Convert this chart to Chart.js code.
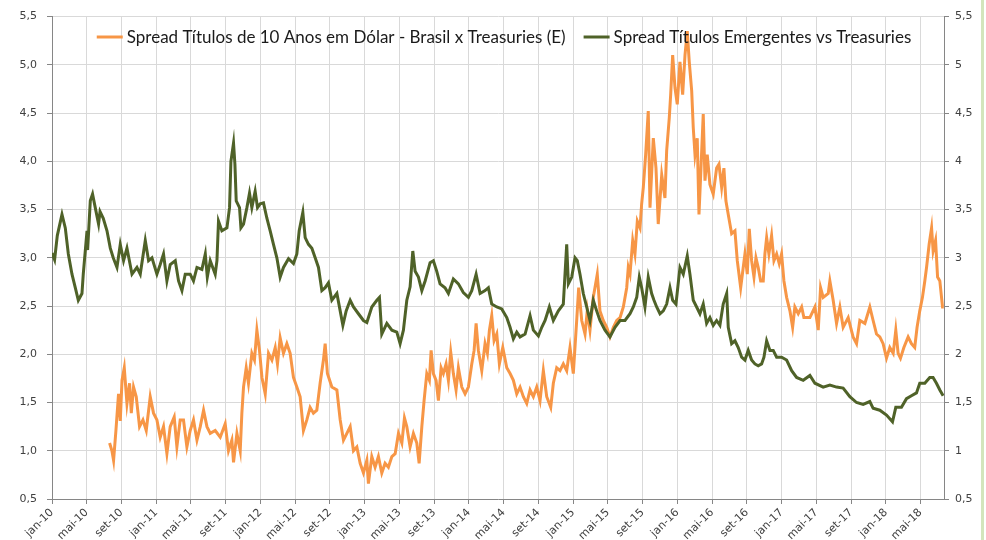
<!DOCTYPE html>
<html>
<head>
<meta charset="utf-8">
<script src="https://cdn.jsdelivr.net/npm/chart.js@4.4.1/dist/chart.umd.min.js"></script>
<style>
  html, body { margin: 0; padding: 0; background: #ffffff; }
  #wrap { position: relative; width: 986px; height: 540px; overflow: hidden; }
  #edge { position: absolute; left: 981px; top: 0; width: 3px; height: 540px; background: #d3e5bc; }
</style>
</head>
<body>
<div id="wrap">
  <canvas id="chart" width="986" height="540"></canvas>
  <div id="edge"></div>
</div>
<script>
// x = months since jan-10, y = spread (p.p.)
const tickLabels = ['jan-10','mai-10','set-10','jan-11','mai-11','set-11','jan-12','mai-12','set-12',
  'jan-13','mai-13','set-13','jan-14','mai-14','set-14','jan-15','mai-15','set-15',
  'jan-16','mai-16','set-16','jan-17','mai-17','set-17','jan-18','mai-18'];
const tickMonths = tickLabels.map((_, i) => i * 4);
const lastMonth = 102.7;

const brasilLabel = 'Spread Títulos de 10 Anos em Dólar - Brasil x Treasuries (E)';
const emergLabel = 'Spread Títulos Emergentes vs Treasuries';

// Brasil 10y spread (left axis)
const brasilPoints = [
  [6.63,1.08],[6.90,1.00],[7.09,0.90],[7.36,1.21],[7.66,1.59],[7.86,1.31],[8.06,1.73],[8.32,1.86],[8.63,1.49],[8.93,1.70],
  [9.13,1.39],[9.39,1.66],[9.70,1.56],[10.08,1.25],[10.47,1.32],[10.85,1.21],[11.31,1.56],[11.69,1.39],[12.08,1.32],[12.46,1.14],
  [12.84,1.25],[13.23,0.97],[13.61,1.25],[14.07,1.35],[14.38,1.04],[14.76,1.32],[15.14,1.32],[15.53,1.04],[15.91,1.21],[16.29,1.32],
  [16.69,1.11],[17.07,1.25],[17.45,1.42],[17.84,1.25],[18.22,1.18],[18.79,1.21],[19.37,1.14],[19.94,1.28],[20.32,1.00],[20.71,1.11],
  [20.90,0.88],[21.29,1.18],[21.67,1.00],[21.86,1.39],[22.05,1.66],[22.36,1.86],[22.62,1.70],[23.01,2.01],[23.31,1.94],[23.59,2.25],
  [23.89,2.04],[24.17,1.76],[24.55,1.59],[24.93,2.01],[25.32,1.94],[25.70,2.07],[25.96,1.90],[26.27,2.17],[26.65,2.01],[27.04,2.11],
  [27.42,2.01],[27.80,1.76],[28.19,1.66],[28.57,1.56],[28.95,1.21],[29.34,1.32],[29.72,1.45],[30.10,1.39],[30.49,1.42],[30.87,1.70],
  [31.25,1.94],[31.45,2.11],[31.71,1.80],[32.22,1.66],[32.80,1.63],[33.18,1.32],[33.56,1.11],[33.95,1.18],[34.33,1.25],[34.71,1.00],
  [35.10,1.04],[35.48,0.87],[35.86,0.77],[36.25,0.90],[36.43,0.66],[36.82,0.94],[37.20,0.83],[37.58,0.94],[37.97,0.77],[38.35,0.87],
  [38.73,0.83],[39.13,0.94],[39.51,0.97],[39.89,1.18],[40.28,1.08],[40.58,1.34],[40.85,1.25],[41.23,1.04],[41.61,1.18],[42.00,1.08],
  [42.27,0.87],[42.58,1.25],[42.84,1.52],[43.15,1.80],[43.45,1.73],[43.65,2.04],[43.91,1.80],[44.22,1.73],[44.49,1.52],[44.80,1.86],
  [45.06,1.80],[45.37,1.90],[45.64,1.73],[45.91,2.02],[46.21,1.80],[46.52,1.63],[46.79,1.86],[47.18,1.66],[47.56,1.59],[47.94,1.66],
  [48.33,1.90],[48.60,2.04],[48.83,2.32],[49.09,2.04],[49.48,1.83],[49.86,2.11],[50.13,2.01],[50.36,2.25],[50.63,2.40],[50.90,2.14],
  [51.21,2.21],[51.51,1.90],[51.90,2.07],[52.36,1.86],[52.74,1.80],[53.12,1.73],[53.51,1.59],[53.89,1.66],[54.27,1.56],[54.66,1.49],
  [55.04,1.63],[55.42,1.56],[55.81,1.66],[56.19,1.52],[56.57,1.83],[56.96,1.56],[57.42,1.45],[57.72,1.70],[58.11,1.86],[58.49,1.83],
  [58.87,1.90],[59.26,1.83],[59.64,2.07],[60.02,1.80],[60.41,2.35],[60.64,2.69],[60.99,2.35],[61.37,2.21],[61.63,2.45],[61.94,2.25],
  [62.32,2.59],[62.78,2.83],[63.09,2.45],[63.47,2.35],[63.87,2.28],[64.24,2.18],[64.63,2.28],[65.02,2.35],[65.40,2.38],[65.78,2.49],
  [66.17,2.69],[66.35,2.90],[66.55,2.83],[66.86,3.18],[67.12,3.04],[67.39,3.38],[67.70,3.31],[67.89,3.56],[68.08,3.73],[68.35,4.07],
  [68.65,4.52],[68.85,3.52],[69.23,4.24],[69.54,3.93],[69.80,3.35],[70.20,3.86],[70.57,3.62],[70.77,4.11],[71.07,4.45],[71.23,4.69],
  [71.46,5.10],[71.73,4.76],[71.99,4.59],[72.30,5.03],[72.61,4.69],[72.88,5.10],[73.14,5.35],[73.37,5.03],[73.65,4.73],[73.83,4.35],
  [74.03,4.07],[74.29,4.24],[74.49,3.45],[74.72,3.93],[74.98,4.49],[75.18,3.80],[75.44,4.07],[75.75,3.76],[76.13,3.66],[76.52,3.93],
  [76.79,3.97],[77.10,3.73],[77.36,3.93],[77.59,3.59],[77.86,3.45],[78.25,3.25],[78.63,3.28],[78.90,2.97],[79.29,2.69],[79.78,3.04],
  [80.05,2.83],[80.28,3.30],[80.55,2.97],[80.82,2.80],[81.05,3.00],[81.31,2.90],[81.59,2.76],[81.89,2.76],[82.08,3.04],[82.28,3.21],
  [82.54,3.04],[82.85,3.23],[83.12,2.97],[83.43,3.04],[83.73,2.94],[84.00,3.04],[84.27,2.76],[84.58,2.59],[84.96,2.45],[85.27,2.28],
  [85.53,2.49],[85.92,2.42],[86.31,2.49],[86.57,2.38],[87.26,2.38],[87.84,2.49],[88.22,2.25],[88.49,2.69],[88.79,2.59],[89.37,2.63],
  [89.56,2.76],[89.94,2.56],[90.33,2.32],[90.71,2.49],[91.09,2.28],[91.67,2.38],[92.23,2.18],[92.63,2.11],[93.01,2.35],[93.59,2.32],
  [94.16,2.49],[94.54,2.35],[94.93,2.21],[95.31,2.18],[95.69,2.11],[96.08,1.96],[96.46,2.07],[96.85,2.01],[97.15,2.25],[97.42,2.01],
  [97.69,1.96],[98.08,2.07],[98.57,2.18],[98.95,2.11],[99.33,2.07],[99.60,2.28],[99.91,2.45],[100.22,2.59],[100.49,2.76],[100.69,2.90],
  [100.99,3.14],[101.27,3.31],[101.45,3.07],[101.73,3.18],[101.96,2.80],[102.22,2.76],[102.53,2.49],[102.68,2.49]
];

// EM spread vs Treasuries (right axis)
const emergPoints = [
  [0.00,3.05],[0.30,2.98],[0.61,3.23],[1.15,3.45],[1.53,3.31],[1.88,3.04],[2.30,2.83],[2.68,2.69],[3.03,2.56],[3.45,2.63],
  [3.60,2.83],[4.03,3.28],[4.10,3.08],[4.41,3.59],[4.67,3.66],[4.98,3.52],[5.36,3.35],[5.53,3.48],[5.90,3.41],[6.33,3.28],
  [6.71,3.10],[7.05,3.00],[7.48,2.90],[7.86,3.14],[8.24,2.97],[8.63,3.10],[9.21,2.83],[9.78,2.90],[10.16,2.83],[10.74,3.18],
  [11.12,2.97],[11.51,3.00],[12.08,2.83],[12.46,2.93],[12.84,3.04],[13.23,2.76],[13.61,2.93],[14.19,2.97],[14.57,2.76],[14.96,2.66],
  [15.34,2.83],[15.91,2.83],[16.29,2.76],[16.69,2.90],[17.26,2.88],[17.65,3.04],[17.88,2.80],[18.22,2.97],[18.79,2.83],[18.99,2.97],
  [19.17,3.38],[19.56,3.28],[20.14,3.31],[20.44,3.52],[20.60,4.00],[20.90,4.19],[21.06,3.97],[21.21,3.59],[21.59,3.52],[21.75,3.31],
  [22.05,3.35],[22.44,3.52],[22.74,3.67],[23.01,3.52],[23.39,3.69],[23.66,3.52],[23.97,3.56],[24.35,3.57],[24.74,3.41],[25.12,3.28],
  [25.50,3.14],[25.89,3.00],[26.27,2.80],[26.65,2.90],[27.23,2.99],[27.80,2.94],[28.19,3.04],[28.46,3.28],[28.88,3.47],[29.15,3.21],
  [29.53,3.14],[29.92,3.10],[30.30,3.00],[30.68,2.90],[31.07,2.66],[31.45,2.69],[31.83,2.74],[32.22,2.56],[32.80,2.63],[33.18,2.45],
  [33.49,2.30],[33.87,2.45],[34.33,2.56],[34.71,2.49],[35.28,2.42],[35.86,2.35],[36.25,2.33],[36.82,2.49],[37.40,2.56],[37.70,2.59],
  [37.97,2.21],[38.55,2.32],[39.13,2.25],[39.70,2.23],[40.08,2.11],[40.46,2.25],[40.85,2.56],[41.23,2.70],[41.54,3.07],[41.81,2.86],
  [42.19,2.80],[42.58,2.66],[42.96,2.76],[43.53,2.95],[43.91,2.97],[44.30,2.86],[44.68,2.73],[45.25,2.69],[45.64,2.63],[46.21,2.78],
  [46.79,2.73],[47.36,2.64],[47.94,2.59],[48.33,2.66],[48.83,2.83],[49.29,2.63],[49.86,2.66],[50.24,2.69],[50.63,2.52],[51.21,2.49],
  [51.78,2.47],[52.36,2.38],[52.74,2.28],[53.12,2.16],[53.51,2.23],[53.89,2.18],[54.47,2.21],[55.04,2.40],[55.42,2.25],[56.00,2.19],
  [56.39,2.28],[56.77,2.35],[57.26,2.49],[57.72,2.35],[58.30,2.45],[58.87,2.52],[59.26,3.14],[59.45,2.73],[59.84,2.80],[60.22,3.00],
  [60.48,2.97],[60.79,2.83],[61.17,2.63],[61.56,2.49],[61.94,2.35],[62.32,2.56],[62.71,2.45],[63.09,2.35],[63.67,2.25],[64.24,2.18],
  [64.82,2.28],[65.40,2.35],[65.97,2.35],[66.55,2.42],[66.93,2.49],[67.32,2.59],[67.62,2.80],[67.89,2.69],[68.27,2.49],[68.65,2.80],
  [69.04,2.63],[69.31,2.56],[69.62,2.49],[70.00,2.42],[70.38,2.45],[70.77,2.52],[71.15,2.69],[71.46,2.56],[71.84,2.52],[72.30,2.90],
  [72.68,2.83],[73.14,3.02],[73.45,2.83],[73.83,2.56],[74.22,2.49],[74.60,2.42],[74.98,2.52],[75.37,2.32],[75.75,2.38],[76.13,2.30],
  [76.52,2.35],[76.90,2.30],[77.28,2.52],[77.68,2.63],[77.86,2.28],[78.25,2.11],[78.63,2.14],[79.01,2.07],[79.40,1.97],[79.78,1.94],
  [80.16,2.04],[80.55,1.94],[80.93,1.90],[81.31,1.88],[81.70,1.90],[81.97,1.97],[82.28,2.14],[82.66,2.04],[83.04,2.04],[83.43,1.97],
  [84.00,1.97],[84.58,1.94],[85.16,1.83],[85.73,1.76],[86.49,1.73],[87.26,1.78],[87.84,1.70],[88.79,1.66],[89.56,1.68],[90.33,1.66],
  [91.09,1.65],[91.86,1.56],[92.63,1.50],[93.39,1.48],[94.16,1.51],[94.54,1.44],[95.31,1.42],[96.08,1.37],[96.77,1.30],[97.15,1.45],
  [97.80,1.45],[98.38,1.54],[98.95,1.57],[99.53,1.60],[99.91,1.70],[100.49,1.70],[101.06,1.76],[101.44,1.76],[101.83,1.70],[102.22,1.63],
  [102.60,1.57]
];

const ORANGE = '#f79646';
const GREEN = '#4f6228';
const GRID = '#d9d9d9';
const AXIS = '#868686';
const TICK_FONT = { family: 'DejaVu Sans', size: 11 };

// legend drawn inside the plot, Excel style
const insideLegend = {
    id: 'insideLegend',
    afterDraw(chart) {
        const ctx = chart.ctx;
        const area = chart.chartArea;
        const items = chart.data.datasets.map(ds => ({ text: ds.label, color: ds.borderColor }));
        const lineW = 26, textGap = 4, itemGap = 18;
        ctx.save();
        ctx.font = '17px Lato, "Open Sans", sans-serif';
        let total = 0;
        items.forEach((it, i) => {
            it.w = ctx.measureText(it.text).width;
            total += lineW + textGap + it.w + (i ? itemGap : 0);
        });
        let x = (area.left + area.right) / 2 - total / 2 + 6;
        const y = 37;
        ctx.textBaseline = 'middle';
        ctx.fillStyle = '#1a1a1a';
        items.forEach((it, i) => {
            if (i) x += itemGap;
            ctx.strokeStyle = it.color;
            ctx.lineWidth = 3;
            ctx.beginPath();
            ctx.moveTo(x, y);
            ctx.lineTo(x + lineW, y);
            ctx.stroke();
            x += lineW + textGap;
            ctx.fillText(it.text, x, y + 1);
            x += it.w;
        });
        ctx.restore();
    }
};

function comma(v, digits) {
    return (digits == null ? String(+v.toFixed(1)) : v.toFixed(digits)).replace('.', ',');
}

new Chart(document.getElementById('chart').getContext('2d'), {
    type: 'line',
    data: {
        datasets: [{
            label: brasilLabel,
            data: brasilPoints.map(p => ({ x: p[0], y: p[1] })),
            borderColor: ORANGE,
            backgroundColor: ORANGE,
            borderWidth: 3,
            pointRadius: 0,
            tension: 0,
            yAxisID: 'y',
            order: 1
        }, {
            label: emergLabel,
            data: emergPoints.map(p => ({ x: p[0], y: p[1] })),
            borderColor: GREEN,
            backgroundColor: GREEN,
            borderWidth: 3,
            pointRadius: 0,
            tension: 0,
            yAxisID: 'y1',
            order: 0
        }]
    },
    options: {
        responsive: false,
        animation: false,
        layout: { padding: { top: 15, left: 0, right: 0, bottom: 0 } },
        plugins: {
            legend: { display: false },
            tooltip: { enabled: false }
        },
        scales: {
            x: {
                type: 'linear',
                min: 0,
                max: lastMonth,
                afterBuildTicks: axis => { axis.ticks = tickMonths.map(v => ({ value: v })); },
                afterFit: axis => { axis.height = 41; },
                grid: { color: GRID, tickColor: AXIS, tickLength: 5 },
                border: { color: AXIS },
                ticks: {
                    autoSkip: false,
                    maxRotation: 45,
                    minRotation: 45,
                    padding: 2,
                    color: '#404040',
                    font: TICK_FONT,
                    callback: v => tickLabels[Math.round(v / 4)]
                }
            },
            y: {
                position: 'left',
                min: 0.5,
                max: 5.5,
                afterFit: axis => { axis.width = 52; },
                grid: { color: GRID, tickColor: AXIS, tickLength: 5 },
                border: { color: AXIS },
                ticks: {
                    stepSize: 0.5,
                    padding: 10,
                    color: '#404040',
                    font: TICK_FONT,
                    callback: v => comma(v, 1)
                }
            },
            y1: {
                position: 'right',
                min: 0.5,
                max: 5.5,
                afterFit: axis => { axis.width = 42; },
                grid: { drawOnChartArea: false, tickColor: AXIS, tickLength: 5 },
                border: { color: AXIS },
                ticks: {
                    stepSize: 0.5,
                    padding: 6,
                    color: '#404040',
                    font: TICK_FONT,
                    callback: v => comma(v)
                }
            }
        }
    },
    plugins: [insideLegend]
});
</script>
</body>
</html>
